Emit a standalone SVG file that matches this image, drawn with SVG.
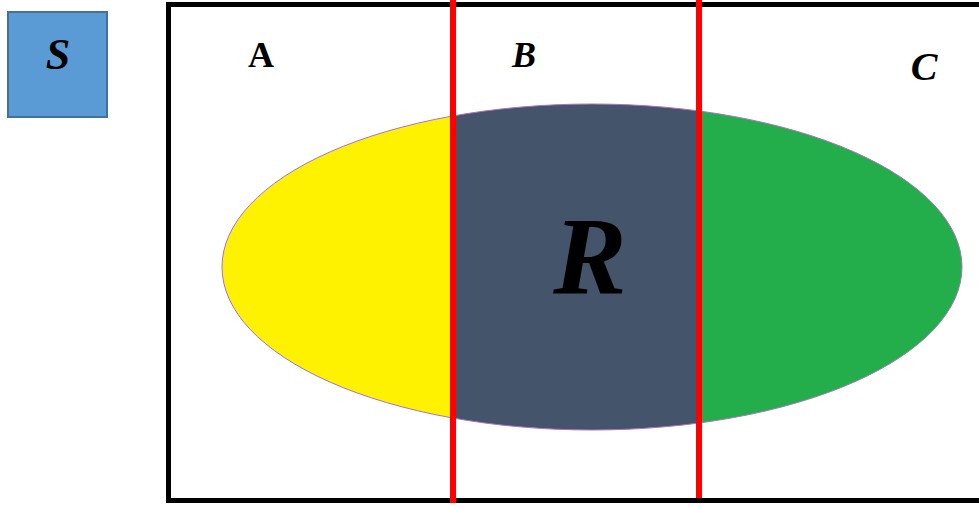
<svg xmlns="http://www.w3.org/2000/svg" width="979" height="507" viewBox="0 0 979 507">
<style>
.lbl{font-family:"Liberation Serif","DejaVu Serif",serif;font-weight:bold;fill:#000;text-anchor:middle}
.it{font-style:italic}
.red{stroke:#FF0000;stroke-width:6}
</style>
<defs>
<clipPath id="ec"><ellipse cx="592" cy="267" rx="370" ry="163"/></clipPath>
</defs>
<rect width="979" height="507" fill="#fff"/>
<g id="S">
<rect x="8" y="12" width="99" height="105" fill="#5B9BD5" stroke="#41719C" stroke-width="2"/>
<text class="lbl it" x="58" y="69" font-size="44">S</text>
</g>
<g id="frame">
<rect x="168.5" y="4.5" width="820" height="496" fill="none" stroke="#000" stroke-width="5"/>
</g>
<g id="R">
<g clip-path="url(#ec)">
<rect x="200" y="90" width="253" height="360" fill="#FFF200"/>
<rect x="453" y="90" width="246" height="360" fill="#44546A"/>
<rect x="699" y="90" width="280" height="360" fill="#23AE4B"/>
</g>
<ellipse cx="592" cy="267" rx="370" ry="163" fill="none" stroke="#B070C0" stroke-width="1"/>
<text class="lbl it" x="590" y="294" font-size="110">R</text>
</g>
<g id="connectors">
<line class="red" x1="453" y1="0" x2="453" y2="503"/>
<line class="red" x1="699" y1="0" x2="699" y2="498"/>
</g>
<g id="A"><text class="lbl" x="261" y="67" font-size="36">A</text></g>
<g id="B"><text class="lbl it" x="524" y="67" font-size="36">B</text></g>
<g id="C"><text class="lbl it" x="924" y="80" font-size="40">C</text></g>
</svg>
